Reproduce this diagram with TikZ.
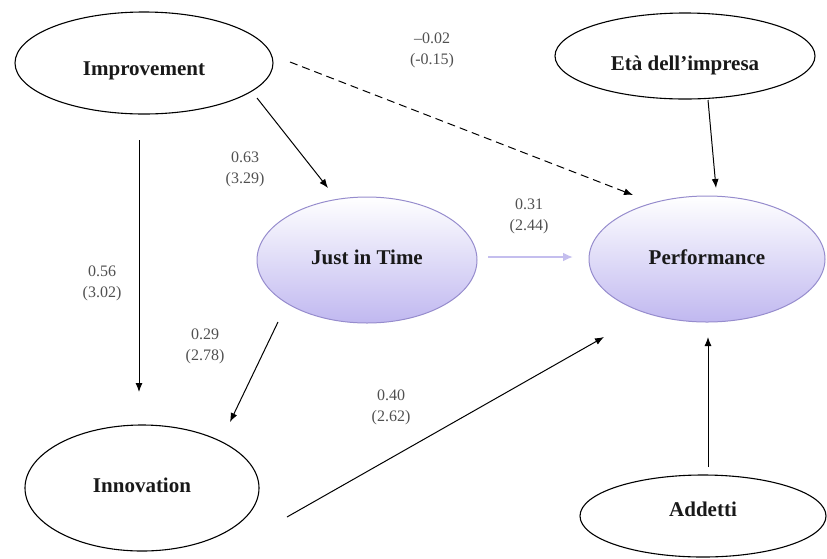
\documentclass[tikz,border=0pt]{standalone}
\usepackage{fontspec}
\setmainfont{Liberation Serif}
\usetikzlibrary{shapes.geometric,arrows.meta,calc}
\definecolor{lav}{RGB}{192,184,240}
\definecolor{lavedge}{RGB}{150,140,205}
\definecolor{lavarrow}{RGB}{196,190,238}
\definecolor{numgray}{RGB}{80,80,80}
% move a label's ink vertically without changing its box
\newcommand{\nudge}[2]{\raisebox{#1}[\height][\depth]{#2}}
\begin{document}
\begin{tikzpicture}[x=1pt,y=-1pt,
  construct/.style={ellipse, draw=black, line width=1.1pt, inner sep=0pt,
    font=\fontsize{21}{24}\selectfont\bfseries, text=black!90},
  latent/.style={ellipse, draw=lavedge, line width=1pt, inner sep=0pt,
    top color=white, bottom color=lav,
    font=\fontsize{21}{24}\selectfont\bfseries, text=black!90},
  pathline/.style={line width=1pt, -{Latex[length=9pt,width=7pt]}},
  coef/.style={align=center, font=\fontsize{16}{21}\selectfont, text=numgray}
]
\useasboundingbox (0,0) rectangle (827,558);

% constructs
\node[construct, minimum width=258pt, minimum height=102pt] (imp) at (144,63) {\nudge{-8pt}{Improvement}};
\node[construct, minimum width=260pt, minimum height=86pt] (eta) at (685,56) {\nudge{-9pt}{Età dell’impresa}};
\node[latent, minimum width=220pt, minimum height=126pt] (jit) at (367,260) {\nudge{3pt}{Just in Time}};
\node[latent, minimum width=236pt, minimum height=126pt] (perf) at (707,259) {\nudge{2pt}{Performance}};
\node[construct, minimum width=234pt, minimum height=126pt] (inno) at (142,488) {\nudge{3pt}{Innovation}};
\node[construct, minimum width=246pt, minimum height=82pt] (add) at (703,516) {\nudge{7pt}{Addetti}};

% paths
\draw[pathline] ($(imp)+(113,35)$) -- ($(jit)+(-39,-72)$);
\draw[pathline] ($(imp)+(-5,77)$) -- ($(inno)+(-3,-96)$);
\draw[pathline, dash pattern=on 8pt off 5pt] ($(imp)+(146,-1)$) -- ($(perf)+(-74,-64)$);
\draw[pathline] ($(eta)+(23,44)$) -- ($(perf)+(9,-71)$);
\draw[line width=2.4pt, draw=lavarrow, -{Latex[length=10pt,width=9pt]}] ($(jit)+(121,-3)$) -- ($(perf)+(-134,-2)$);
\draw[pathline] ($(jit)+(-89,62)$) -- ($(inno)+(88,-66)$);
\draw[pathline] ($(inno)+(145,29)$) -- ($(perf)+(-103,78)$);
\draw[pathline] ($(add)+(5,-49)$) -- ($(perf)+(1,78)$);

% coefficients
\node[coef] (c1) at (432,50) {–0.02\\(-0.15)};
\node[coef] (c2) at (245,169) {0.63\\(3.29)};
\node[coef] (c3) at (529,216) {0.31\\(2.44)};
\node[coef] (c4) at (102,283) {0.56\\(3.02)};
\node[coef] (c5) at (205,346) {0.29\\(2.78)};
\node[coef] (c6) at (391,407) {0.40\\(2.62)};
\end{tikzpicture}
\end{document}
